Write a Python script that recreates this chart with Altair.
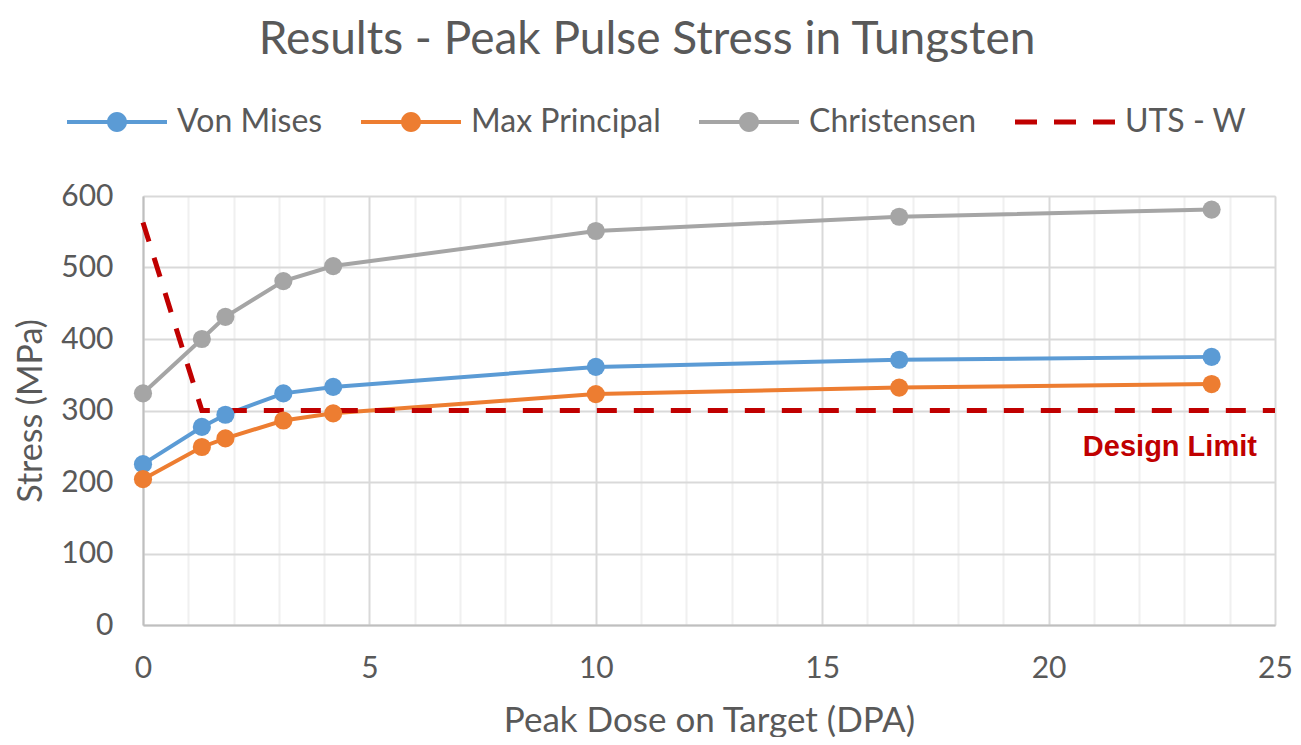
import altair as alt
import pandas as pd

# ---- data ----
dose = [0, 1.3, 1.82, 3.1, 4.2, 10, 16.7, 23.6]
von_mises = [225, 277, 294, 324, 333, 361, 371, 375]
max_principal = [204, 249, 261, 286, 296, 323, 332, 337]
christensen = [324, 400, 431, 481, 502, 551, 571, 581]
uts_dose = [0, 1.3, 25]
uts_stress = [563, 300, 300]

series_names = ["Von Mises", "Max Principal", "Christensen", "UTS - W"]
series_colors = ["#5B9BD5", "#ED7D31", "#A5A5A5", "#C00000"]

x_ticks = list(range(0, 26))
y_ticks = [0, 100, 200, 300, 400, 500, 600]

note_text = ["Design Limit"]
note_x = [24.6]
note_y = [236]

# ---- tables ----
rows = []
for name, vals in zip(series_names[:3], [von_mises, max_principal, christensen]):
    for i, (d, v) in enumerate(zip(dose, vals)):
        rows.append({"series": name, "dose": d, "stress": v, "order": i})
main_df = pd.DataFrame(rows)
uts_df = pd.DataFrame({"series": "UTS - W", "dose": uts_dose, "stress": uts_stress,
                       "order": list(range(len(uts_dose)))})
all_df = pd.concat([main_df, uts_df], ignore_index=True)
note_df = pd.DataFrame({"text": note_text, "dose": note_x, "stress": note_y})

FONT = "Lato"
GREY = "#595959"

line_circle = "M-1,-0.04H1V0.04H-1Z M-0.2,0A0.2,0.2,0,1,1,0.2,0A0.2,0.2,0,1,1,-0.2,0Z"
dashes = "M-1,-0.05H-0.56V0.05H-1Z M-0.22,-0.05H0.22V0.05H-0.22Z M0.56,-0.05H1V0.05H0.56Z"

color_scale = alt.Scale(domain=series_names, range=series_colors)

PLOT_W = 1132
PLOT_H = 429

x_enc = alt.X("dose:Q", scale=alt.Scale(domain=[0, 25], nice=False),
              axis=alt.Axis(values=x_ticks,
                            labelExpr="datum.value % 5 === 0 ? datum.label : ''",
                            title="Peak Dose on Target (DPA)",
                            gridColor=alt.condition("datum.value % 5 === 0",
                                                    alt.value("#d9d9d9"), alt.value("#f0f0f0")),
                            gridWidth=2, ticks=False, domainColor="#bfbfbf", domainWidth=2,
                            labelFont=FONT, labelFontSize=30, labelColor=GREY, labelPadding=28,
                            labelFlush=False,
                            titleFont=FONT, titleFontSize=35, titleColor=GREY, titleFontWeight="normal",
                            titleX=PLOT_W / 2, titleY=95, titleBaseline="middle"))
y_enc = alt.Y("stress:Q", scale=alt.Scale(domain=[0, 600], nice=False),
              axis=alt.Axis(values=y_ticks, title="Stress (MPa)", gridColor="#d9d9d9", gridWidth=2,
                            ticks=False, domainColor="#bfbfbf", domainWidth=2,
                            labelFont=FONT, labelFontSize=30, labelColor=GREY, labelPadding=30,
                            titleFont=FONT, titleFontSize=34, titleColor=GREY, titleFontWeight="normal",
                            titleX=-112, titleY=PLOT_H / 2, titleAngle=-90, titleBaseline="middle",
                            titleAlign="center"))

legend_layer = alt.Chart(all_df).mark_point(filled=True, size=0, opacity=1).encode(
    x=x_enc, y=y_enc,
    color=alt.Color("series:N", scale=color_scale,
                    legend=alt.Legend(title=None, orient="none", direction="horizontal",
                                      legendX=-76, legendY=-124, symbolSize=10000,
                                      symbolOpacity=1, symbolStrokeWidth=0,
                                      labelFont=FONT, labelFontSize=32, labelColor=GREY,
                                      labelOffset=10, columnPadding=38, padding=0,
                                      labelLimit=500, gridAlign="none")),
    shape=alt.Shape("series:N", scale=alt.Scale(domain=series_names,
                                                range=[line_circle, line_circle, line_circle, dashes])),
)

base = alt.Chart(main_df)
lines = base.mark_line(strokeWidth=4).encode(
    x="dose:Q", y="stress:Q",
    color=alt.Color("series:N", scale=color_scale, legend=None),
    order="order:Q",
)
points = base.mark_circle(size=330, opacity=1).encode(
    x="dose:Q", y="stress:Q",
    color=alt.Color("series:N", scale=color_scale, legend=None),
)
uts = alt.Chart(uts_df).mark_line(strokeWidth=5, strokeDash=[20, 17]).encode(
    x="dose:Q", y="stress:Q",
    color=alt.Color("series:N", scale=color_scale, legend=None),
    order="order:Q",
)
note = alt.Chart(note_df).mark_text(align="right", baseline="alphabetic", font="Liberation Sans",
                                    fontWeight="bold", fontSize=29, color="#C00000").encode(
    x="dose:Q", y="stress:Q", text="text:N")

chart = alt.layer(legend_layer, lines, uts, points, note).properties(
    width=PLOT_W, height=PLOT_H,
    title=alt.Title("Results - Peak Pulse Stress in Tungsten", font=FONT, fontSize=46,
                    fontWeight="normal", color=GREY, anchor="middle", frame="group",
                    dx=-62, offset=8),
    autosize=alt.AutoSizeParams(type="none"),
    padding={"left": 135, "top": 188, "right": 18, "bottom": 112},
).configure_view(stroke=None).configure(background="white")

chart.save("out.html", embed_options={"renderer": "svg", "actions": False})
